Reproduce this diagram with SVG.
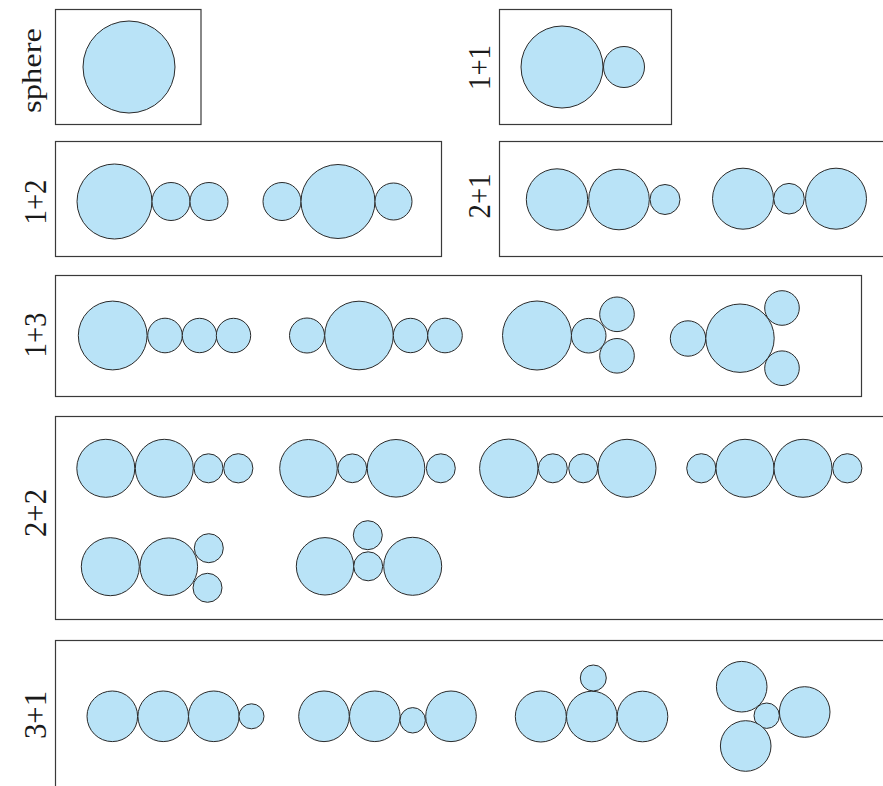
<svg xmlns="http://www.w3.org/2000/svg" width="883" height="786" viewBox="0 0 883 786">
<style>
.box{fill:none;stroke:#3a3a3a;stroke-width:1.2}
circle{fill:#b9e3f7;stroke:#2a2a2a;stroke-width:1}
.lbl{font-family:"Liberation Serif","Times New Roman",serif;font-size:32px;fill:#1a1a1a;text-anchor:middle}
</style>
<rect width="883" height="786" fill="#ffffff"/>
<g id="sphere">
<rect class="box" x="55.5" y="9.5" width="145.5" height="115"/>
<text class="lbl" transform="translate(41,70.5) rotate(-90)" style="font-size:27px" textLength="85" lengthAdjust="spacingAndGlyphs">sphere</text>
<circle cx="129" cy="67" r="46"/>
</g>
<g id="p1p1">
<rect class="box" x="499.5" y="9.5" width="172" height="115"/>
<text class="lbl" transform="translate(490,67.5) rotate(-90)" textLength="45" lengthAdjust="spacingAndGlyphs">1+1</text>
<circle cx="562" cy="67" r="41"/>
<circle cx="624" cy="67" r="20.5"/>
</g>
<g id="p1p2">
<rect class="box" x="55.5" y="141.5" width="386" height="115"/>
<text class="lbl" transform="translate(46,202) rotate(-90)" textLength="45" lengthAdjust="spacingAndGlyphs">1+2</text>
<circle cx="114.5" cy="201.5" r="37.5"/>
<circle cx="171" cy="201.5" r="19"/>
<circle cx="209" cy="201.5" r="19"/>
<circle cx="282" cy="201.5" r="19"/>
<circle cx="338" cy="201.5" r="37"/>
<circle cx="393.5" cy="201.5" r="18.5"/>
</g>
<g id="p2p1">
<rect class="box" x="499.5" y="141.5" width="400" height="115"/>
<text class="lbl" transform="translate(490,196) rotate(-90)" textLength="45" lengthAdjust="spacingAndGlyphs">2+1</text>
<circle cx="557" cy="199.5" r="30.7"/>
<circle cx="619" cy="199.5" r="30.3"/>
<circle cx="665" cy="199.5" r="15"/>
<circle cx="743" cy="198.7" r="30.5"/>
<circle cx="789" cy="198.7" r="15.3"/>
<circle cx="836" cy="198.7" r="30.5"/>
</g>
<g id="p1p3">
<rect class="box" x="55.5" y="275.5" width="806" height="121"/>
<text class="lbl" transform="translate(46,335) rotate(-90)" textLength="45" lengthAdjust="spacingAndGlyphs">1+3</text>
<circle cx="112.7" cy="335.5" r="34.4"/>
<circle cx="165" cy="335.5" r="17.3"/>
<circle cx="199.5" cy="335.5" r="17.2"/>
<circle cx="233.5" cy="335.5" r="17.2"/>
<circle cx="307" cy="335.5" r="17.5"/>
<circle cx="359" cy="335.5" r="34.3"/>
<circle cx="410.5" cy="335.5" r="17.2"/>
<circle cx="445" cy="335.5" r="17.3"/>
<circle cx="537" cy="335.5" r="34.5"/>
<circle cx="588.7" cy="335.7" r="17.3"/>
<circle cx="617" cy="314.3" r="17.3"/>
<circle cx="617" cy="355.8" r="17.3"/>
<circle cx="688" cy="338.5" r="17.7"/>
<circle cx="740" cy="338.2" r="34.2"/>
<circle cx="782" cy="308" r="17.3"/>
<circle cx="782" cy="368.2" r="17.3"/>
</g>
<g id="p2p2">
<rect class="box" x="55.5" y="416.5" width="850" height="203"/>
<text class="lbl" transform="translate(46,513) rotate(-90)" textLength="48" lengthAdjust="spacingAndGlyphs">2+2</text>
<circle cx="105.8" cy="468.3" r="29"/>
<circle cx="164.3" cy="468.3" r="29"/>
<circle cx="208.5" cy="468.3" r="14.5"/>
<circle cx="238.3" cy="468.3" r="14.6"/>
<circle cx="308.5" cy="468.3" r="28.8"/>
<circle cx="352.3" cy="468.3" r="14.4"/>
<circle cx="396" cy="468.3" r="28.8"/>
<circle cx="440.8" cy="468.3" r="14.5"/>
<circle cx="508.8" cy="468.3" r="29.2"/>
<circle cx="552.8" cy="468.3" r="14.5"/>
<circle cx="583.2" cy="468.3" r="14.5"/>
<circle cx="627" cy="468.3" r="29"/>
<circle cx="701.3" cy="468.3" r="14.6"/>
<circle cx="745" cy="468.3" r="29"/>
<circle cx="803" cy="468.3" r="29"/>
<circle cx="847.3" cy="468.3" r="14.6"/>
<circle cx="110.3" cy="566.7" r="29"/>
<circle cx="168.8" cy="566.7" r="28.8"/>
<circle cx="208.8" cy="548.2" r="14.5"/>
<circle cx="207.5" cy="587.8" r="14.5"/>
<circle cx="325" cy="566.3" r="28.7"/>
<circle cx="368.2" cy="566.3" r="14.5"/>
<circle cx="367.8" cy="535.2" r="14.5"/>
<circle cx="412.7" cy="566.3" r="29"/>
</g>
<g id="p3p1">
<rect class="box" x="55.5" y="640.5" width="850" height="200"/>
<text class="lbl" transform="translate(46,715) rotate(-90)" textLength="48" lengthAdjust="spacingAndGlyphs">3+1</text>
<circle cx="112.3" cy="716.3" r="25.3"/>
<circle cx="163.2" cy="716.3" r="25.3"/>
<circle cx="213.8" cy="716.3" r="25.3"/>
<circle cx="251.5" cy="716.3" r="12.5"/>
<circle cx="324" cy="716.3" r="25.3"/>
<circle cx="374.8" cy="716.3" r="25.3"/>
<circle cx="412.7" cy="720.3" r="12.7"/>
<circle cx="451" cy="716.3" r="25.3"/>
<circle cx="540.8" cy="716.5" r="25.5"/>
<circle cx="591.8" cy="716.5" r="25.3"/>
<circle cx="642.5" cy="716.5" r="25.3"/>
<circle cx="593.3" cy="678" r="13"/>
<circle cx="741.7" cy="686.7" r="25.3"/>
<circle cx="766.7" cy="715.7" r="12.7"/>
<circle cx="804.7" cy="712" r="25.3"/>
<circle cx="745.7" cy="746" r="25.3"/>
</g>
<g id="connectors"/>
</svg>
